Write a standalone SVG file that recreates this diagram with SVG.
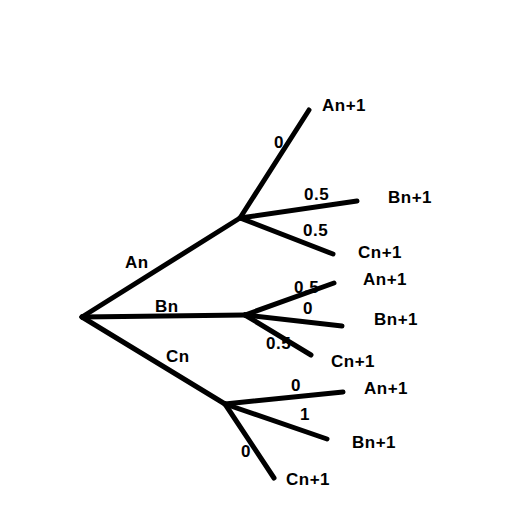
<svg xmlns="http://www.w3.org/2000/svg" width="519" height="508" viewBox="0 0 519 508">
<style>
.e{stroke:#000;stroke-width:5;stroke-linecap:round;fill:none}
text{font-family:"Liberation Sans",Arial,sans-serif;font-weight:bold;font-size:17px;letter-spacing:0.5px;fill:#000}
</style>
<rect width="519" height="508" fill="#fff"/>
<g id="connectors">
<line class="e" x1="82" y1="317" x2="240" y2="218"/>
<line class="e" x1="82" y1="317" x2="245" y2="315"/>
<line class="e" x1="82" y1="317" x2="225" y2="404"/>
<line class="e" x1="240" y1="218" x2="309" y2="110"/>
<line class="e" x1="240" y1="218" x2="357" y2="201"/>
<line class="e" x1="240" y1="218" x2="333" y2="254"/>
<line class="e" x1="245" y1="315" x2="334" y2="283"/>
<line class="e" x1="245" y1="315" x2="342" y2="326"/>
<line class="e" x1="245" y1="315" x2="311" y2="355"/>
<line class="e" x1="225" y1="404" x2="343" y2="392"/>
<line class="e" x1="225" y1="404" x2="327" y2="439"/>
<line class="e" x1="225" y1="404" x2="274" y2="478"/>
<text x="274" y="148">0</text>
<text x="304" y="200">0.5</text>
<text x="303" y="236">0.5</text>
<text x="294" y="293">0.5</text>
<text x="303" y="314">0</text>
<text x="266" y="349">0.5</text>
<text x="291" y="391">0</text>
<text x="300" y="420">1</text>
<text x="241" y="457">0</text>
</g>
<g id="An"><text x="125" y="268">An</text></g>
<g id="Bn"><text x="155" y="312">Bn</text></g>
<g id="Cn"><text x="166" y="362">Cn</text></g>
<g id="A_An1"><text x="322" y="111">An+1</text></g>
<g id="A_Bn1"><text x="388" y="203">Bn+1</text></g>
<g id="A_Cn1"><text x="358" y="258">Cn+1</text></g>
<g id="B_An1"><text x="363" y="285">An+1</text></g>
<g id="B_Bn1"><text x="374" y="325">Bn+1</text></g>
<g id="B_Cn1"><text x="331" y="367">Cn+1</text></g>
<g id="C_An1"><text x="364" y="394">An+1</text></g>
<g id="C_Bn1"><text x="352" y="448">Bn+1</text></g>
<g id="C_Cn1"><text x="286" y="485">Cn+1</text></g>
</svg>
